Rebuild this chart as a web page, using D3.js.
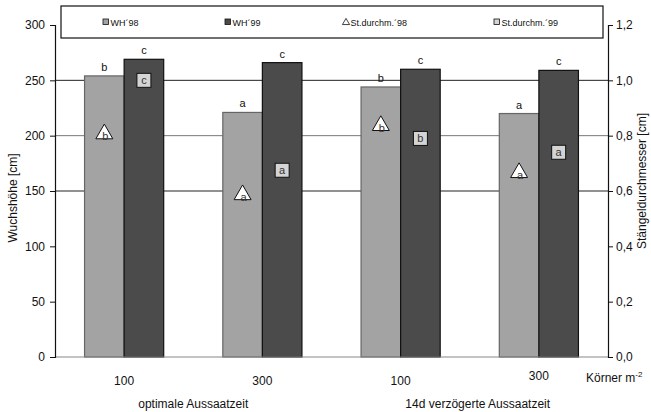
<!DOCTYPE html>
<html>
<head>
<meta charset="utf-8">
<script src="https://cdn.jsdelivr.net/npm/d3@7"></script>
<style>
  html, body { margin: 0; padding: 0; background: #fff; }
  svg { display: block; font-family: "Liberation Sans", Arial, sans-serif; }
</style>
</head>
<body>
<div id="chart"></div>
<script>
// values
const groups = [0, 1, 2, 3];
const tickLabels = ['100', '300', '100', '300'];
const periodLabels = ['optimale Aussaatzeit', '14d verzögerte Aussaatzeit'];
const series = ['98', '99'];
const wh98 = [254, 221, 244, 220];
const wh99 = [269, 266, 260, 259];
const wh98Letters = ['b', 'a', 'b', 'a'];
const wh99Letters = ['c', 'c', 'c', 'c'];
const sd98 = [0.81, 0.59, 0.84, 0.67];
const sd99 = [1.0, 0.675, 0.79, 0.74];
const sd98Letters = ['b', 'a', 'b', 'a'];
const sd99Letters = ['c', 'a', 'b', 'a'];
const leftTicks = [0, 50, 100, 150, 200, 250, 300];
const rightTicks = [0, 0.2, 0.4, 0.6, 0.8, 1.0, 1.2];
const gridValues = [150, 200, 250];

const W = 651, H = 412;
const L = 55, R = 608, T = 25, B = 357;

const svg = d3.select('#chart').append('svg')
  .attr('width', W).attr('height', H);

const x = d3.scaleBand().domain(groups).range([L, R]).padding(0);
const xs = d3.scaleBand().domain(series).range([0, x.bandwidth()])
  .paddingInner(0).paddingOuter(0.747);
const y = d3.scaleLinear().domain([0, 300]).range([B, T]);
const y2 = d3.scaleLinear().domain([0, 1.2]).range([B, T]);

// gridlines
svg.append('g').selectAll('line').data(gridValues).join('line')
  .attr('x1', L).attr('x2', R)
  .attr('y1', d => y(d)).attr('y2', d => y(d))
  .attr('stroke', d => d === 200 ? '#777' : '#222')
  .attr('stroke-width', 1);

// bars
const bars = [
  { key: '98', vals: wh98, letters: wh98Letters, fill: '#a3a3a3', stroke: '#666' },
  { key: '99', vals: wh99, letters: wh99Letters, fill: '#4b4b4b', stroke: '#111' }
];
bars.forEach(s => {
  const g = svg.append('g');
  g.selectAll('rect').data(groups).join('rect')
    .attr('x', d => x(d) + xs(s.key))
    .attr('y', d => y(s.vals[d]))
    .attr('width', xs.bandwidth())
    .attr('height', d => B - y(s.vals[d]))
    .attr('fill', s.fill)
    .attr('stroke', s.stroke)
    .attr('stroke-width', 1.2);
  g.selectAll('text').data(groups).join('text')
    .attr('x', d => x(d) + xs(s.key) + xs.bandwidth() / 2)
    .attr('y', d => y(s.vals[d]) - 5)
    .attr('text-anchor', 'middle')
    .attr('font-size', 11)
    .attr('fill', '#111')
    .text(d => s.letters[d]);
});

// baseline
svg.append('line')
  .attr('x1', L).attr('x2', R).attr('y1', B).attr('y2', B)
  .attr('stroke', '#888').attr('stroke-width', 1.2);

// stem diameter markers
const tri = d3.symbol().type(d3.symbolTriangle).size(125);
const gm = svg.append('g');
gm.selectAll('path.tri').data(groups).join('path')
  .attr('class', 'tri')
  .attr('d', tri)
  .attr('transform', d => `translate(${x(d) + xs('98') + xs.bandwidth() / 2},${y2(sd98[d]) + 1})`)
  .attr('fill', '#fff').attr('stroke', '#111').attr('stroke-width', 1);
gm.selectAll('text.tri').data(groups).join('text')
  .attr('class', 'tri')
  .attr('x', d => x(d) + xs('98') + xs.bandwidth() / 2 + 1)
  .attr('y', d => y2(sd98[d]) + 7)
  .attr('text-anchor', 'middle')
  .attr('font-size', 11).attr('fill', '#333')
  .text(d => sd98Letters[d]);
gm.selectAll('rect.sq').data(groups).join('rect')
  .attr('class', 'sq')
  .attr('x', d => x(d) + xs('99') + xs.bandwidth() / 2 - 7)
  .attr('y', d => y2(sd99[d]) - 7)
  .attr('width', 14).attr('height', 14)
  .attr('fill', '#d4d4d4').attr('stroke', '#111').attr('stroke-width', 1);
gm.selectAll('text.sq').data(groups).join('text')
  .attr('class', 'sq')
  .attr('x', d => x(d) + xs('99') + xs.bandwidth() / 2)
  .attr('y', d => y2(sd99[d]) + 4)
  .attr('text-anchor', 'middle')
  .attr('font-size', 11).attr('fill', '#333')
  .text(d => sd99Letters[d]);

// axes
const fmt = d3.format('.1f');
const leftAxis = svg.append('g')
  .attr('transform', `translate(${L},0)`)
  .call(d3.axisLeft(y).tickValues(leftTicks).tickSize(5).tickPadding(5));
const rightAxis = svg.append('g')
  .attr('transform', `translate(${R},0)`)
  .call(d3.axisRight(y2).tickValues(rightTicks).tickSize(5).tickPadding(3)
    .tickFormat(d => fmt(d).replace('.', ',')));
[leftAxis, rightAxis].forEach(a => {
  a.select('.domain').attr('stroke', '#111').attr('stroke-width', 1.2);
  a.selectAll('.tick line').attr('stroke', '#111');
  a.selectAll('.tick text').attr('font-size', 12).attr('fill', '#111')
    .attr('font-family', '"Liberation Sans", Arial, sans-serif');
});

// axis titles
svg.append('text')
  .attr('transform', 'translate(17,198) rotate(-90)')
  .attr('text-anchor', 'middle').attr('font-size', 12).attr('fill', '#111')
  .text('Wuchshöhe [cm]');
svg.append('text')
  .attr('transform', 'translate(646,181) rotate(-90)')
  .attr('text-anchor', 'middle').attr('font-size', 12).attr('fill', '#111')
  .text('Stängeldurchmesser [cm]');

// category labels
svg.append('g').selectAll('text').data(groups).join('text')
  .attr('x', d => x(d) + x.bandwidth() / 2)
  .attr('y', d => d === 3 ? 380 : 385)
  .attr('text-anchor', 'middle').attr('font-size', 12).attr('fill', '#111')
  .text(d => tickLabels[d]);
svg.append('g').selectAll('text').data(periodLabels).join('text')
  .attr('x', (d, i) => x(i * 2) + x.bandwidth() + (i === 0 ? 0 : 8))
  .attr('y', 408)
  .attr('text-anchor', 'middle').attr('font-size', 12).attr('fill', '#111')
  .text(d => d);
const k = svg.append('text')
  .attr('x', 586).attr('y', 382).attr('font-size', 12).attr('fill', '#111');
k.append('tspan').text('Körner m');
k.append('tspan').attr('dy', -5).attr('font-size', 8).text('-2');

// legend
const lg = svg.append('g');
lg.append('rect')
  .attr('x', 61).attr('y', 6).attr('width', 542).attr('height', 32)
  .attr('fill', '#fff').attr('stroke', '#111').attr('stroke-width', 1.2);
const legendItems = [
  { label: 'WH´98', type: 'sq', fill: '#a3a3a3', x: 103 },
  { label: 'WH´99', type: 'sq', fill: '#4b4b4b', x: 225 },
  { label: 'St.durchm.´98', type: 'tri', fill: '#fff', x: 343 },
  { label: 'St.durchm.´99', type: 'sq', fill: '#d4d4d4', x: 494 }
];
legendItems.forEach(it => {
  if (it.type === 'sq') {
    lg.append('rect').attr('x', it.x).attr('y', 19).attr('width', 5.5).attr('height', 5.5)
      .attr('fill', it.fill).attr('stroke', '#111').attr('stroke-width', 0.8);
  } else {
    lg.append('path').attr('d', d3.symbol().type(d3.symbolTriangle).size(22))
      .attr('transform', `translate(${it.x + 3},${22.5})`)
      .attr('fill', '#fff').attr('stroke', '#111').attr('stroke-width', 0.8);
  }
  lg.append('text').attr('x', it.x + 7.5).attr('y', 26)
    .attr('font-size', 9).attr('fill', '#111').text(it.label);
});
</script>
</body>
</html>
